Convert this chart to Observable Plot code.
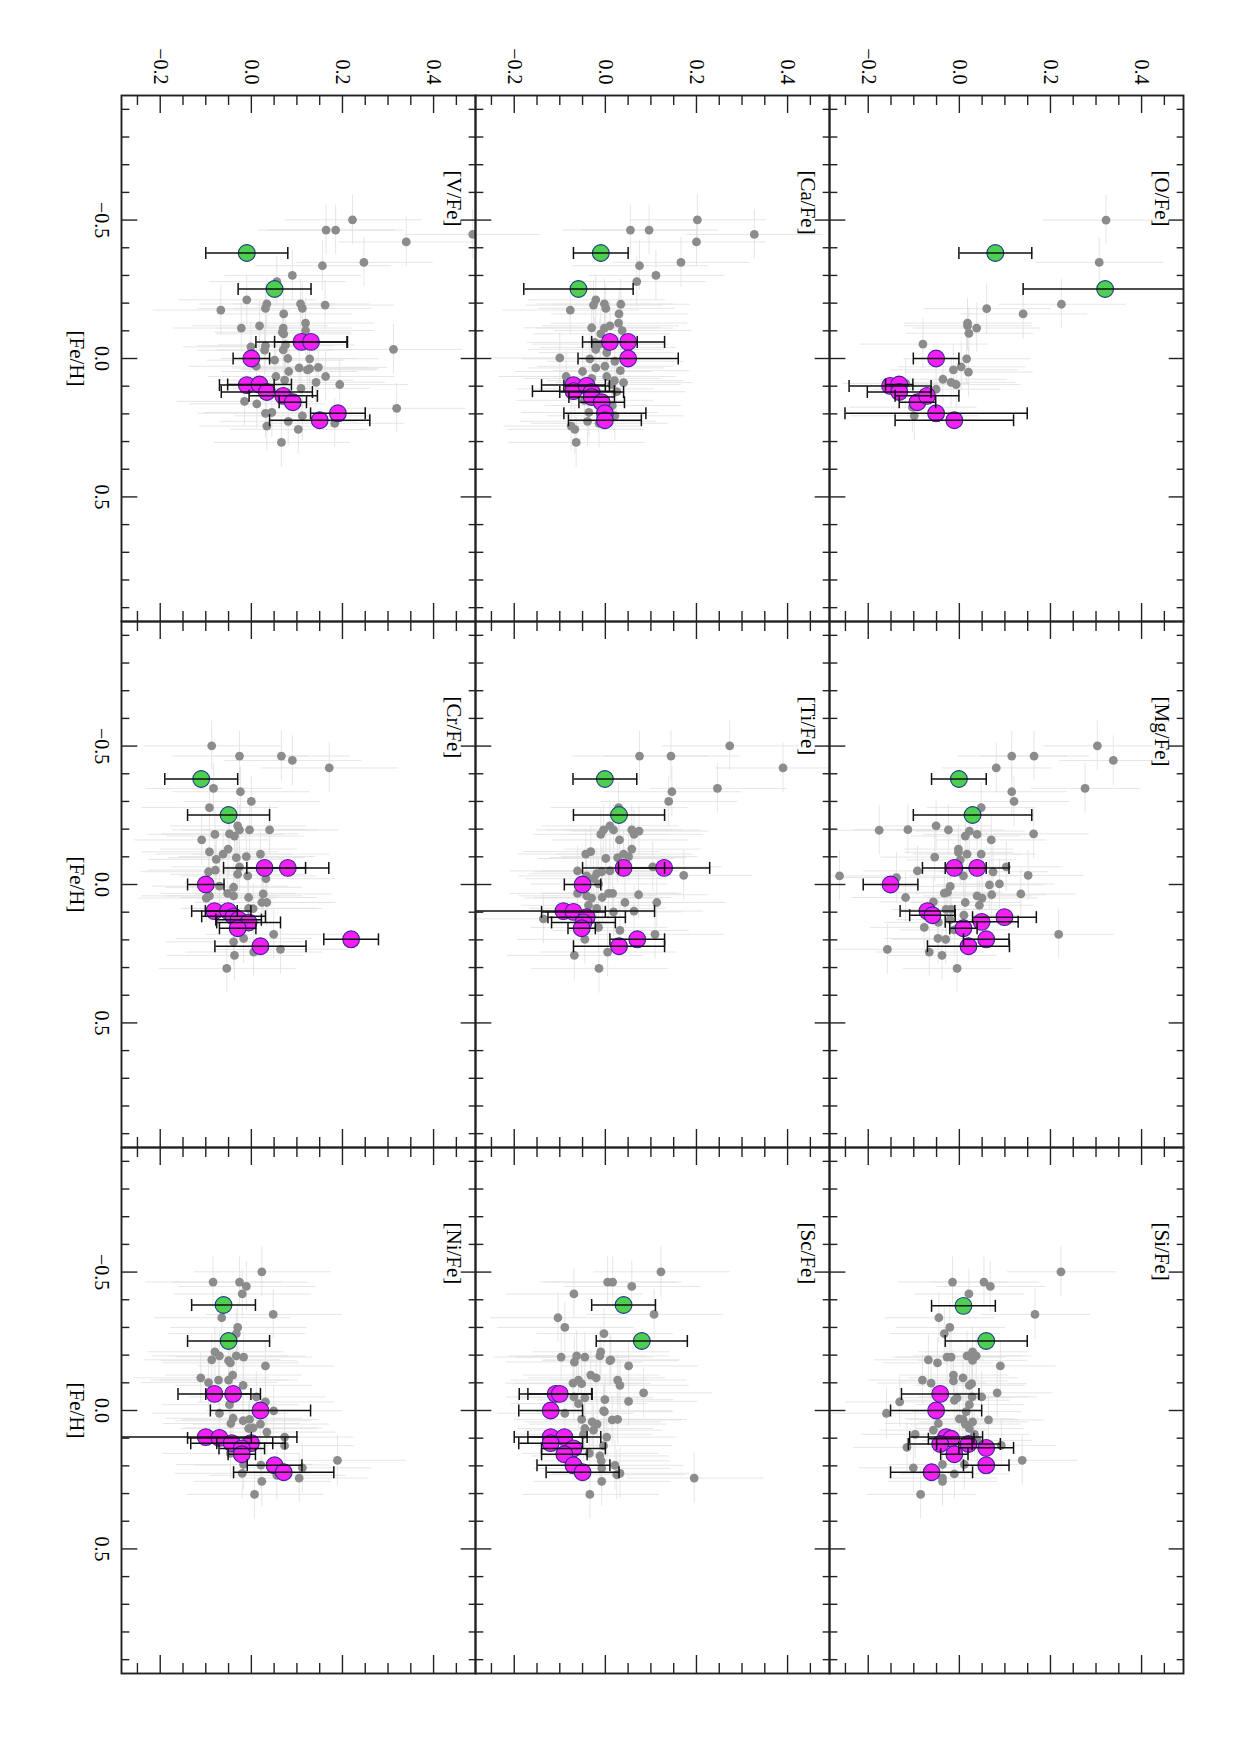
<!DOCTYPE html>
<html><head><meta charset="utf-8">
<script src="https://cdn.jsdelivr.net/npm/d3@7"></script>
<script src="https://cdn.jsdelivr.net/npm/@observablehq/plot@0.6"></script>
<style>
html,body{margin:0;padding:0;background:#fff;overflow:hidden;width:1240px;height:1755px;}
#rot{position:absolute;left:0;top:0;width:1755px;height:1240px;transform-origin:0 0;transform:translate(1240px,0) rotate(90deg);background:#fff;}
</style></head><body><div id="rot"></div>
<script>
// ---- data: [Fe/H], [X/Fe] (and error for the coloured points) ----
const oGray=[[-0.50,0.322],[-0.347,0.307],[-0.196,0.224],[-0.161,0.140],[-0.180,0.060],[-0.128,0.018],[-0.118,0.018],[-0.110,0.038],[-0.091,0.021],[-0.052,-0.080],[0.001,0.016],[0.030,0.004],[0.041,-0.013],[0.049,0.020],[0.075,-0.036],[0.086,-0.018],[0.094,-0.007],[0.111,-0.051],[0.090,-0.118],[0.176,-0.103],[0.207,-0.099]];
const oGreen=[[-0.381,0.079,0.08],[-0.251,0.320,0.18]];
const oMag=[[0.000,-0.051,0.05],[0.099,-0.152,0.09],[0.094,-0.132,0.03],[0.121,-0.132,0.07],[0.158,-0.092,0.04],[0.135,-0.071,0.07],[0.198,-0.051,0.20],[0.223,-0.011,0.13]];

const mgGray=[[-0.501,0.303],[-0.448,0.338],[-0.464,0.115],[-0.464,0.164],[-0.421,0.081],[-0.347,0.276],[-0.335,0.115],[-0.300,0.120],[-0.278,0.048],[-0.196,-0.176],[-0.198,-0.113],[-0.212,-0.051],[-0.197,-0.024],[-0.193,0.022],[-0.175,0.013],[-0.181,0.039],[-0.161,0.070],[-0.183,0.163],[-0.128,-0.002],[-0.116,-0.002],[-0.110,0.017],[-0.110,0.048],[-0.099,-0.054],[-0.089,0.002],[-0.064,0.103],[-0.049,-0.092],[-0.025,-0.138],[-0.031,-0.263],[-0.046,0.074],[-0.033,0.151],[-0.031,0.009],[0.007,-0.020],[0.001,0.066],[-0.002,0.088],[0.028,-0.026],[0.031,-0.033],[0.047,-0.118],[0.041,0.039],[0.037,0.071],[0.034,0.135],[0.049,0.050],[0.065,0.013],[0.075,0.044],[0.063,-0.057],[0.090,-0.029],[0.090,-0.018],[0.111,0.010],[0.127,-0.020],[0.137,-0.046],[0.155,-0.077],[0.164,-0.011],[0.180,0.218],[0.195,-0.047],[0.198,-0.030],[0.234,-0.158],[0.244,-0.066],[0.256,-0.038],[0.303,-0.005]];
const mgGreen=[[-0.381,-0.001,0.06],[-0.251,0.029,0.13]];
const mgMag=[[-0.060,-0.011,0.07],[-0.060,0.039,0.07],[0.000,-0.151,0.06],[0.096,-0.070,0.06],[0.111,-0.059,0.05],[0.118,0.099,0.07],[0.135,0.049,0.08],[0.158,0.009,0.03],[0.198,0.059,0.05],[0.223,0.020,0.09]];

const siGray=[[-0.501,0.223],[-0.464,-0.015],[-0.464,0.054],[-0.448,0.068],[-0.421,0.021],[-0.347,0.166],[-0.335,-0.045],[-0.300,-0.021],[-0.278,-0.033],[-0.212,0.029],[-0.183,-0.068],[-0.172,-0.048],[-0.193,-0.027],[-0.193,-0.018],[-0.197,0.017],[-0.197,0.037],[-0.181,0.029],[-0.161,0.090],[-0.128,-0.013],[-0.118,0.008],[-0.107,-0.013],[-0.110,-0.081],[-0.099,-0.062],[-0.091,0.022],[-0.097,0.027],[-0.064,0.083],[-0.049,0.049],[-0.049,0.028],[-0.037,-0.011],[-0.046,-0.005],[-0.031,-0.131],[-0.021,0.022],[0.010,-0.160],[0.004,0.015],[0.030,0.000],[0.032,0.008],[0.034,0.064],[0.041,0.029],[0.049,0.013],[0.047,-0.046],[0.065,0.022],[0.071,-0.057],[0.086,-0.097],[0.133,-0.115],[0.086,0.033],[0.108,0.039],[0.126,0.092],[0.180,0.138],[0.207,-0.101],[0.195,-0.037],[0.195,0.011],[0.229,-0.011],[0.244,-0.037],[0.256,-0.037],[0.303,-0.085]];
const siGreen=[[-0.378,0.009,0.07],[-0.251,0.059,0.09]];
const siMag=[[-0.060,-0.042,0.085],[0.000,-0.051,0.10],[0.096,-0.029,0.08],[0.102,-0.018,0.05],[0.121,-0.042,0.07],[0.121,0.020,0.07],[0.135,0.059,0.06],[0.158,-0.011,0.03],[0.198,0.059,0.05],[0.223,-0.061,0.09]];

const caGray=[[-0.501,0.202],[-0.448,0.327],[-0.464,0.055],[-0.464,0.096],[-0.421,0.200],[-0.448,-0.295],[-0.347,0.166],[-0.335,0.075],[-0.300,0.111],[-0.278,0.069],[-0.212,-0.021],[-0.193,-0.026],[-0.197,-0.002],[-0.181,0.001],[-0.196,0.034],[-0.175,-0.077],[-0.161,0.030],[-0.128,0.029],[-0.118,0.010],[-0.110,-0.002],[-0.111,-0.030],[-0.101,0.037],[-0.089,-0.010],[-0.058,-0.023],[-0.052,-0.012],[-0.040,0.005],[-0.033,-0.021],[-0.021,0.003],[-0.002,-0.100],[0.001,-0.034],[0.010,0.021],[0.034,-0.021],[0.028,-0.001],[0.047,-0.050],[0.044,0.033],[0.065,-0.086],[0.065,0.003],[0.072,-0.030],[0.080,0.020],[0.087,0.040],[0.094,0.014],[0.110,-0.045],[0.120,0.025],[0.151,-0.046],[0.170,0.015],[0.195,-0.036],[0.207,0.021],[0.227,-0.039],[0.234,-0.014],[0.244,-0.075],[0.256,-0.067],[0.303,-0.064]];
const caGreen=[[-0.381,-0.010,0.06],[-0.251,-0.059,0.12]];
const caMag=[[-0.060,0.010,0.06],[-0.060,0.050,0.08],[0.000,0.050,0.11],[0.096,-0.070,0.07],[0.118,-0.070,0.09],[0.099,-0.041,0.05],[0.121,-0.030,0.07],[0.139,-0.030,0.05],[0.158,-0.008,0.05],[0.198,-0.001,0.09],[0.223,-0.001,0.08]];

const tiGray=[[-0.501,0.273],[-0.421,0.390],[-0.464,0.075],[-0.464,0.144],[-0.347,0.246],[-0.335,0.146],[-0.300,0.139],[-0.278,0.029],[-0.197,-0.004],[-0.212,0.010],[-0.197,0.018],[-0.181,-0.010],[-0.197,0.058],[-0.181,0.063],[-0.193,0.074],[-0.161,0.031],[-0.128,0.058],[-0.119,-0.032],[-0.110,-0.043],[-0.094,0.001],[-0.097,0.027],[-0.110,0.040],[-0.101,0.051],[-0.064,0.104],[-0.049,-0.061],[-0.031,-0.041],[-0.039,-0.019],[-0.046,-0.008],[-0.049,0.010],[-0.033,0.172],[-0.021,-0.026],[-0.002,-0.015],[0.032,-0.061],[0.041,-0.041],[0.032,0.007],[0.032,0.016],[0.047,-0.007],[0.049,-0.030],[0.037,0.073],[0.065,0.043],[0.065,0.113],[0.075,-0.037],[0.086,-0.019],[0.099,0.018],[0.096,0.063],[0.124,-0.136],[0.155,-0.015],[0.166,0.032],[0.180,0.109],[0.198,-0.045],[0.256,-0.068],[0.244,0.005],[0.303,-0.014]];
const tiGreen=[[-0.381,-0.001,0.07],[-0.251,0.030,0.10]];
const tiMag=[[-0.060,0.040,0.09],[-0.060,0.129,0.10],[0.000,-0.050,0.04],[0.096,-0.092,0.20],[0.099,-0.070,0.07],[0.118,-0.041,0.085],[0.137,-0.048,0.07],[0.158,-0.052,0.03],[0.198,0.070,0.06],[0.223,0.030,0.10]];

const scGray=[[-0.501,0.122],[-0.464,0.005],[-0.464,0.016],[-0.448,0.058],[-0.421,-0.069],[-0.347,0.107],[-0.335,-0.104],[-0.300,-0.089],[-0.278,-0.003],[-0.212,-0.010],[-0.197,-0.012],[-0.180,0.010],[-0.183,0.012],[-0.193,-0.097],[-0.197,-0.063],[-0.193,-0.045],[-0.175,-0.068],[-0.161,0.051],[-0.128,-0.032],[-0.118,-0.020],[-0.110,0.027],[-0.091,0.032],[-0.099,-0.071],[-0.110,-0.059],[-0.097,-0.052],[-0.064,0.084],[-0.049,-0.069],[-0.046,-0.045],[-0.039,-0.001],[-0.033,0.051],[-0.025,-0.059],[0.010,-0.089],[0.004,-0.002],[0.001,-0.004],[0.032,-0.052],[0.041,-0.029],[0.049,-0.018],[0.034,0.015],[0.032,0.027],[0.065,-0.045],[0.071,-0.026],[0.086,-0.048],[0.096,0.003],[0.127,-0.004],[0.155,-0.035],[0.164,-0.012],[0.182,-0.009],[0.198,0.021],[0.209,-0.008],[0.232,0.025],[0.227,0.032],[0.244,0.195],[0.256,-0.008],[0.303,-0.034]];
const scGreen=[[-0.381,0.040,0.07],[-0.251,0.080,0.10]];
const scMag=[[-0.060,-0.109,0.08],[-0.060,-0.100,0.07],[0.000,-0.120,0.07],[0.096,-0.120,0.08],[0.096,-0.090,0.08],[0.118,-0.120,0.07],[0.137,-0.070,0.07],[0.158,-0.090,0.05],[0.198,-0.070,0.08],[0.223,-0.050,0.08]];

const vGray=[[-0.501,0.222],[-0.464,0.164],[-0.464,0.185],[-0.448,0.486],[-0.421,0.340],[-0.347,0.247],[-0.335,0.156],[-0.300,0.090],[-0.278,0.056],[-0.212,-0.010],[-0.197,0.034],[-0.181,0.031],[-0.175,-0.067],[-0.197,0.108],[-0.181,0.112],[-0.193,0.162],[-0.161,0.071],[-0.128,0.119],[-0.110,-0.022],[-0.118,0.018],[-0.110,0.070],[-0.101,0.119],[-0.095,0.068],[-0.089,0.071],[-0.049,0.075],[-0.046,0.031],[-0.042,-0.001],[-0.030,0.029],[-0.033,0.312],[-0.031,0.070],[0.006,0.051],[0.000,0.080],[0.001,0.128],[0.028,0.011],[0.034,0.105],[0.041,0.123],[0.037,0.128],[0.032,0.147],[0.047,0.082],[0.065,0.054],[0.065,0.163],[0.078,0.073],[0.086,0.142],[0.094,0.194],[0.108,0.109],[0.155,-0.015],[0.164,0.012],[0.180,0.319],[0.198,0.031],[0.195,0.045],[0.207,0.112],[0.227,0.081],[0.234,0.183],[0.244,0.034],[0.256,0.103],[0.303,0.066]];
const vGreen=[[-0.381,-0.010,0.09],[-0.251,0.051,0.08]];
const vMag=[[-0.060,0.110,0.10],[-0.060,0.131,0.08],[0.000,0.000,0.04],[0.096,-0.010,0.06],[0.094,0.018,0.07],[0.121,0.034,0.10],[0.135,0.070,0.075],[0.158,0.091,0.03],[0.198,0.190,0.06],[0.223,0.150,0.11]];

const crGray=[[-0.501,-0.087],[-0.464,-0.026],[-0.464,0.066],[-0.448,0.090],[-0.421,0.171],[-0.347,-0.083],[-0.335,-0.024],[-0.300,0.000],[-0.278,-0.092],[-0.212,-0.030],[-0.197,-0.026],[-0.197,-0.004],[-0.197,0.040],[-0.181,-0.080],[-0.183,-0.048],[-0.175,-0.037],[-0.161,-0.109],[-0.128,-0.051],[-0.118,-0.092],[-0.110,-0.062],[-0.110,0.020],[-0.097,-0.033],[-0.101,-0.011],[-0.091,-0.077],[-0.046,-0.094],[-0.052,-0.079],[-0.064,-0.026],[-0.037,-0.030],[-0.031,-0.008],[-0.021,0.032],[0.006,-0.070],[0.010,-0.039],[0.032,-0.052],[0.041,-0.039],[0.047,-0.006],[0.034,0.026],[0.065,0.023],[0.065,0.034],[0.049,-0.099],[0.041,-0.092],[0.086,-0.006],[0.087,0.004],[0.180,0.049],[0.195,-0.017],[0.207,-0.039],[0.244,0.005],[0.234,0.064],[0.256,-0.037],[0.303,-0.054]];
const crGreen=[[-0.381,-0.110,0.08],[-0.251,-0.050,0.09]];
const crMag=[[-0.060,0.029,0.09],[-0.060,0.080,0.09],[0.000,-0.100,0.04],[0.096,-0.081,0.05],[0.096,-0.051,0.05],[0.115,-0.039,0.07],[0.127,-0.028,0.05],[0.137,-0.006,0.07],[0.158,-0.030,0.04],[0.198,0.219,0.06],[0.223,0.020,0.10]];

const niGray=[[-0.501,0.023],[-0.464,-0.084],[-0.464,-0.026],[-0.448,-0.011],[-0.421,-0.020],[-0.347,0.048],[-0.335,-0.065],[-0.300,-0.030],[-0.278,-0.033],[-0.212,-0.080],[-0.197,-0.070],[-0.183,-0.087],[-0.180,-0.050],[-0.172,-0.046],[-0.197,-0.033],[-0.193,-0.017],[-0.161,0.031],[-0.118,-0.111],[-0.101,-0.094],[-0.110,-0.072],[-0.110,-0.050],[-0.128,-0.041],[-0.091,-0.018],[-0.049,0.011],[-0.031,0.031],[-0.021,-0.048],[0.010,-0.070],[0.001,0.049],[0.028,-0.040],[0.037,-0.018],[0.032,-0.004],[0.047,-0.045],[0.049,0.020],[0.065,-0.006],[0.063,0.004],[0.078,0.034],[0.096,0.073],[0.127,0.073],[0.155,-0.046],[0.180,0.189],[0.195,-0.017],[0.197,0.021],[0.207,0.112],[0.227,-0.020],[0.234,0.056],[0.244,0.105],[0.256,0.023],[0.303,0.007]];
const niGreen=[[-0.381,-0.061,0.07],[-0.251,-0.050,0.09]];
const niMag=[[-0.060,-0.081,0.08],[-0.060,-0.040,0.06],[0.000,0.020,0.11],[0.096,-0.100,0.20],[0.099,-0.070,0.07],[0.118,-0.043,0.09],[0.118,-0.001,0.075],[0.137,-0.021,0.05],[0.158,-0.021,0.03],[0.198,0.051,0.06],[0.223,0.071,0.11]];

// typical uncertainties of the comparison (grey) sample, per panel
const grayErrX=[0.14,0.12,0.12,0.15,0.15,0.15,0.15,0.15,0.15];
const grayErrFe=0.09;

const panelNames=["[O/Fe]","[Mg/Fe]","[Si/Fe]","[Ca/Fe]","[Ti/Fe]","[Sc/Fe]","[V/Fe]","[Cr/Fe]","[Ni/Fe]"];
const panelGray=[oGray,mgGray,siGray,caGray,tiGray,scGray,vGray,crGray,niGray];
const panelGreen=[oGreen,mgGreen,siGreen,caGreen,tiGreen,scGreen,vGreen,crGreen,niGreen];
const panelMag=[oMag,mgMag,siMag,caMag,tiMag,scMag,vMag,crMag,niMag];

const xMajor=[-0.5,0,0.5];
const xMinor=[-0.9,-0.8,-0.7,-0.6,-0.4,-0.3,-0.2,-0.1,0.1,0.2,0.3,0.4,0.6,0.7,0.8,0.9];
const yMajor=[-0.2,0,0.2,0.4];
const yMinor=[-0.25,-0.15,-0.1,-0.05,0.05,0.1,0.15,0.25,0.3,0.35,0.45];

// ---- build tables ----
const grayRows=[], greenRows=[], magRows=[], labelRows=[];
panelNames.forEach((name,i)=>{
  const fx=i%3, fy=Math.floor(i/3);
  labelRows.push({fx,fy,name});
  panelGray[i].forEach(([feh,xfe])=>grayRows.push({fx,fy,feh,xfe,ex:grayErrX[i],ef:grayErrFe}));
  panelGreen[i].forEach(([feh,xfe,e])=>greenRows.push({fx,fy,feh,xfe,e}));
  panelMag[i].forEach(([feh,xfe,e])=>magRows.push({fx,fy,feh,xfe,e}));
});
const errRows=greenRows.concat(magRows);
const bottomRows=labelRows.filter(d=>d.fy===2);

const W=1755,H=1240,mL=95,mR=82,mT=55,mB=121;
const fh=(H-mT-mB)/3, fw=(W-mL-mR)/3;
const capSymbol={draw(ctx,size){const w=Math.sqrt(size/Math.PI);ctx.moveTo(-w,0);ctx.lineTo(w,0);}};
const fmt=d3.format(".1f");
const FONT="Liberation Serif, Times New Roman, serif";

const chart=Plot.plot({
  width:W,height:H,marginLeft:mL,marginRight:mR,marginTop:mT,marginBottom:mB,
  style:{fontFamily:FONT,fontSize:"20px",background:"white",color:"black"},
  x:{domain:[-0.95,0.95]},
  y:{domain:[-0.285,0.492]},
  fx:{domain:[0,1,2],padding:0,axis:null},
  fy:{domain:[0,1,2],padding:0,axis:null},
  marks:[
    Plot.ruleX(grayRows,{fx:"fx",fy:"fy",x:"feh",y1:d=>d.xfe-d.ex,y2:d=>d.xfe+d.ex,stroke:"#e0e0e0",strokeWidth:0.8,clip:true}),
    Plot.ruleY(grayRows,{fx:"fx",fy:"fy",y:"xfe",x1:d=>d.feh-d.ef,x2:d=>d.feh+d.ef,stroke:"#e0e0e0",strokeWidth:0.8,clip:true}),
    Plot.dot(grayRows,{fx:"fx",fy:"fy",x:"feh",y:"xfe",r:4.4,fill:"#8c8c8c",clip:true}),
    Plot.dot(greenRows,{fx:"fx",fy:"fy",x:"feh",y:"xfe",r:8.4,fill:"#4fcf4f",stroke:"#1c3f8c",strokeWidth:1.1,clip:true}),
    Plot.dot(magRows,{fx:"fx",fy:"fy",x:"feh",y:"xfe",r:8.4,fill:"#f51ef5",stroke:"#3b2596",strokeWidth:1.1,clip:true}),
    Plot.ruleX(errRows,{fx:"fx",fy:"fy",x:"feh",y1:d=>d.xfe-d.e,y2:d=>d.xfe+d.e,stroke:"#111",strokeWidth:1.5,clip:true}),
    Plot.dot(errRows,{fx:"fx",fy:"fy",x:"feh",y:d=>d.xfe-d.e,symbol:capSymbol,r:6,fill:"none",stroke:"#111",strokeWidth:1.5,clip:true}),
    Plot.dot(errRows,{fx:"fx",fy:"fy",x:"feh",y:d=>d.xfe+d.e,symbol:capSymbol,r:6,fill:"none",stroke:"#111",strokeWidth:1.5,clip:true}),
    // inward ticks on all four sides of every panel
    Plot.ruleX(xMajor,{x:d=>d,insetTop:fh-16,stroke:"#222",strokeWidth:1.4}),
    Plot.ruleX(xMajor,{x:d=>d,insetBottom:fh-16,stroke:"#222",strokeWidth:1.4}),
    Plot.ruleX(xMinor,{x:d=>d,insetTop:fh-8,stroke:"#222",strokeWidth:1.4}),
    Plot.ruleX(xMinor,{x:d=>d,insetBottom:fh-8,stroke:"#222",strokeWidth:1.4}),
    Plot.ruleY(yMajor,{y:d=>d,insetRight:fw-18,stroke:"#222",strokeWidth:1.4}),
    Plot.ruleY(yMajor,{y:d=>d,insetLeft:fw-18,stroke:"#222",strokeWidth:1.4}),
    Plot.ruleY(yMinor,{y:d=>d,insetRight:fw-10,stroke:"#222",strokeWidth:1.4}),
    Plot.ruleY(yMinor,{y:d=>d,insetLeft:fw-10,stroke:"#222",strokeWidth:1.4}),
    Plot.frame({stroke:"#222",strokeWidth:1.9}),
    Plot.axisX({ticks:xMajor,tickFormat:fmt,tickSize:0,tickPadding:12,label:null,fontSize:20}),
    Plot.axisY({ticks:yMajor,tickFormat:fmt,tickSize:0,tickPadding:11,label:null,fontSize:20}),
    Plot.text(labelRows,{fx:"fx",fy:"fy",text:"name",frameAnchor:"top-left",dx:75,dy:14,textAnchor:"start",lineAnchor:"top",fontSize:21,fill:"black"}),
    Plot.text(bottomRows,{fx:"fx",fy:"fy",text:()=>"[Fe/H]",frameAnchor:"bottom",dy:45,lineAnchor:"middle",fontSize:21,fill:"black"})
  ]
});
document.getElementById("rot").appendChild(chart);
</script>
</body></html>
